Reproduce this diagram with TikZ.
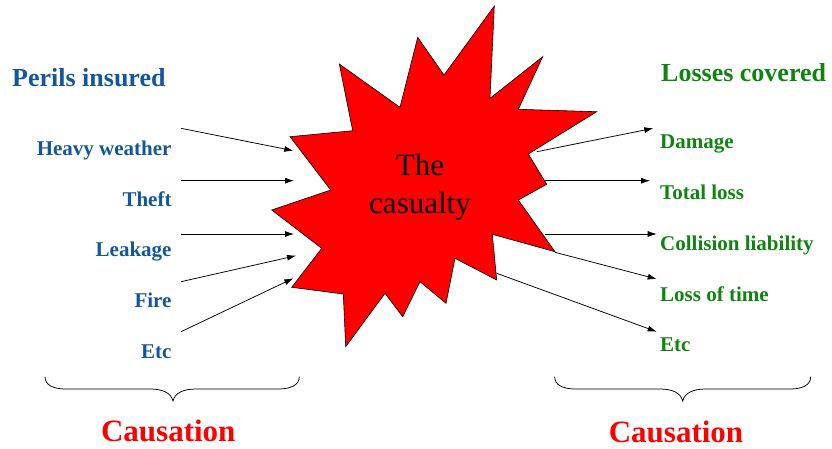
\documentclass[tikz,border=0pt]{standalone}
\usepackage{fontspec}
\setmainfont{Liberation Serif}[BoldFont={Liberation Serif Bold}]
\newfontfamily\lbserif{Liberation Serif Bold}
\usetikzlibrary{arrows.meta}
\definecolor{perilblue}{RGB}{20,86,160}
\definecolor{lossgreen}{RGB}{16,132,16}
\begin{document}
\begin{tikzpicture}[x=1pt,y=-1pt,
  peril/.style={font=\lbserif\fontsize{21}{24}\selectfont, text=perilblue, inner sep=0pt, anchor=base east},
  loss/.style={font=\lbserif\fontsize{21}{24}\selectfont, text=lossgreen, inner sep=0pt, anchor=base west},
  heading/.style={font=\lbserif\fontsize{26}{30}\selectfont, inner sep=0pt},
  causation/.style={font=\lbserif\fontsize{31}{36}\selectfont, text=red, inner sep=0pt, anchor=base},
  arr/.style={line width=0.75pt, -{Latex[length=9pt,width=6pt]}},
  brace/.style={line width=0.75pt}
]
\useasboundingbox (0,0) rectangle (832,448);

% the casualty star
\draw[fill=red, line width=0.6pt, line join=miter]
  (494.3,6) -- (490,98.3) -- (542.7,56.7) -- (518.3,109.3) -- (596.7,111.7)
  -- (528.3,154) -- (546.7,184.3) -- (518.3,200) -- (555,251.7) -- (492.3,234.3)
  -- (496.7,280) -- (455,258.3) -- (446,303.3) -- (420,281.7) -- (402.7,316.7)
  -- (385,293.3) -- (345.7,346.7) -- (343.3,294) -- (291.7,287.3) -- (321.7,248.3)
  -- (271.7,210) -- (330.7,190) -- (290,136.7) -- (352.7,130.7) -- (339.3,64)
  -- (400,107.3) -- (417.7,37.3) -- (444,75) -- cycle;
\node[align=center, font=\fontsize{31}{38}\selectfont, inner sep=0pt] (casualty) at (420,187) {The\\casualty};

% headings
\node[heading, text=perilblue, anchor=base west] (perils) at (12,86.5) {Perils insured};
\node[heading, text=lossgreen, anchor=base west] (losses) at (661,81.7) {Losses covered};

% perils
\node[peril] (p1) at (171.7,155) {Heavy weather};
\node[peril] (p2) at (171.7,206) {Theft};
\node[peril] (p3) at (171.7,256.7) {Leakage};
\node[peril] (p4) at (171.7,307.3) {Fire};
\node[peril] (p5) at (171.7,358) {Etc};

% losses
\node[loss] (l1) at (660,148.3) {Damage};
\node[loss] (l2) at (660,199) {Total loss};
\node[loss] (l3) at (660,250) {Collision liability};
\node[loss] (l4) at (660,301.7) {Loss of time};
\node[loss] (l5) at (660,351.7) {Etc};

% arrow end points
\coordinate (pa1) at (181,128.3);   \coordinate (pb1) at (293.3,150.7);
\coordinate (pa2) at (181,180.7);   \coordinate (pb2) at (294,180.7);
\coordinate (pa3) at (181,234);     \coordinate (pb3) at (294,234);
\coordinate (pa4) at (181,281.7);   \coordinate (pb4) at (296,255.7);
\coordinate (pa5) at (181,331.7);   \coordinate (pb5) at (293.3,278.3);

\coordinate (la1) at (536.7,151.7); \coordinate (lb1) at (653.3,128.3);
\coordinate (la2) at (545,180.7);   \coordinate (lb2) at (650,180.7);
\coordinate (la3) at (545,234);     \coordinate (lb3) at (656.7,234);
\coordinate (la4) at (555,252.3);   \coordinate (lb4) at (656.7,279);
\coordinate (la5) at (496.7,273.3); \coordinate (lb5) at (656.7,331.7);

\foreach \i in {1,...,5} {
  \draw[arr] (pa\i) -- (pb\i);
  \draw[arr] (la\i) -- (lb\i);
}

% braces
\draw[brace] (45,376.7) .. controls (45,385) and (53,389) .. (66,389) -- (150,389)
  .. controls (163,389) and (171,393) .. (173,401)
  .. controls (175,393) and (183,389) .. (196,389) -- (278,389)
  .. controls (291,389) and (299.3,385) .. (299.3,376.7);
\draw[brace] (554.7,376.7) .. controls (554.7,385) and (562.7,389) .. (575.7,389) -- (659.7,389)
  .. controls (672.7,389) and (680.7,393) .. (682.7,401)
  .. controls (684.7,393) and (692.7,389) .. (705.7,389) -- (789.7,389)
  .. controls (802.7,389) and (810.7,385) .. (810.7,376.7);

% causation labels
\node[causation] (cause1) at (168.3,441.7) {Causation};
\node[causation] (cause2) at (676,442.7) {Causation};
\end{tikzpicture}
\end{document}
